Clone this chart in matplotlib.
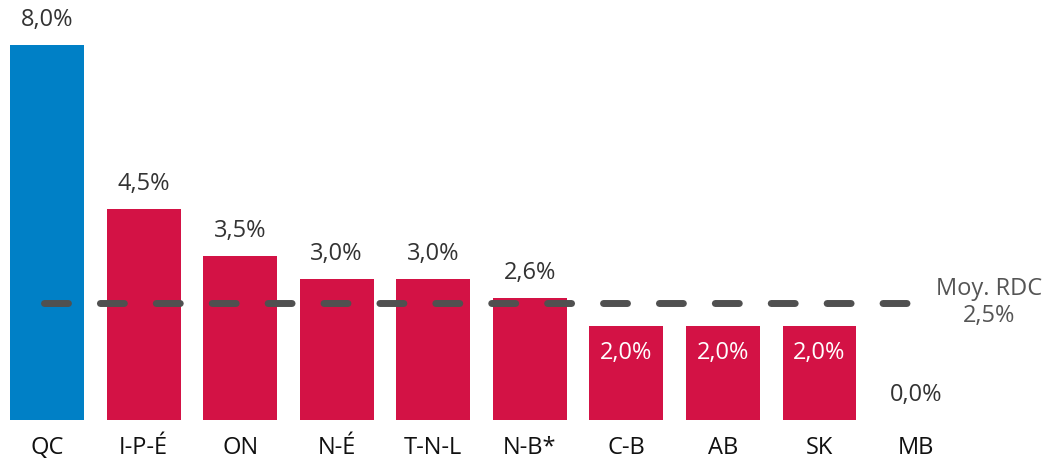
import numpy as np
import matplotlib
matplotlib.use("Agg")
import matplotlib.pyplot as plt

provinces = ["QC", "I-P-É", "ON", "N-É", "T-N-L", "N-B*", "C-B", "AB", "SK", "MB"]
values = [8.0, 4.5, 3.5, 3.0, 3.0, 2.6, 2.0, 2.0, 2.0, 0.0]
labels = ["8,0%", "4,5%", "3,5%", "3,0%", "3,0%", "2,6%", "2,0%", "2,0%", "2,0%", "0,0%"]
inside = [False, False, False, False, False, False, True, True, True, False]
avg_value = 2.5
avg_label = "2,5%"

blue = "#0080c6"
red = "#d31245"

plt.rcParams['font.family'] = ['Open Sans', 'DejaVu Sans']

fig = plt.figure(figsize=(10.45, 4.59), dpi=100)
ax = fig.add_axes([0, 0, 1, 1])

x = np.arange(len(provinces))
colors = [blue] + [red] * (len(provinces) - 1)
ax.bar(x, values, width=0.765, color=colors)

for i in range(len(x)):
    if inside[i]:
        ax.annotate(labels[i], (x[i], values[i]), xytext=(0, -19), textcoords="offset points",
                    ha="center", va="center", fontsize=17, color="white")
    else:
        ax.annotate(labels[i], (x[i], values[i]), xytext=(0, 18), textcoords="offset points",
                    ha="center", va="center", fontsize=17, color="#333333")
    ax.annotate(provinces[i], (x[i], 0), xytext=(0, -20), textcoords="offset points",
                ha="center", va="center", fontsize=17, color="#111111", fontweight="medium")

# moyenne nationale
ax.plot([x[0] - 0.03, x[-1] + 0.0], [avg_value, avg_value], color="#505050", lw=5,
        dashes=(3.45, 4.6), dash_capstyle="round")
ax.text(9.76, avg_value + 0.30, "Moy. RDC", ha="center", va="center", fontsize=17, color="#555555")
ax.text(9.76, avg_value - 0.28, avg_label, ha="center", va="center", fontsize=17,
        color="#555555")

ax.set_xlim(-0.487, 10.336)
ax.set_ylim(-0.832, 8.96)
ax.axis("off")

fig.savefig("out.png", dpi=100)
